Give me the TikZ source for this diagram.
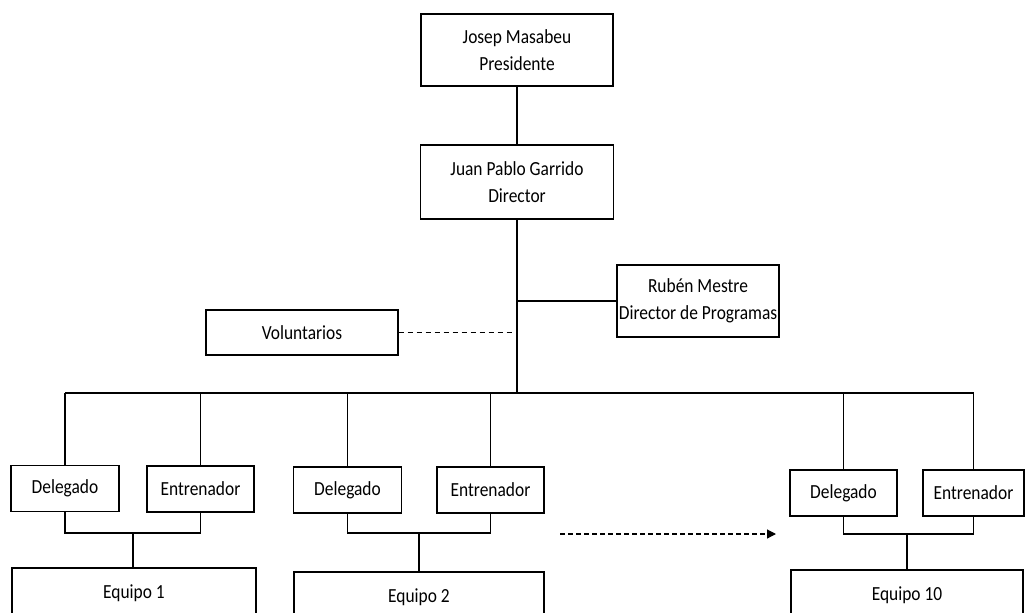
\documentclass[tikz,border=0pt]{standalone}
\usepackage{fontspec}
\setmainfont[FakeStretch=0.87]{Carlito}
\usetikzlibrary{arrows.meta}

\begin{document}
\begin{tikzpicture}[x=0.5pt,y=-0.5pt,
  box/.style={draw,line width=0.7pt,inner sep=0pt,align=center,
    font=\fontsize{10}{13.5}\selectfont},
  small/.style={box,minimum width=54pt,minimum height=23pt},
  team/.style={box,minimum height=25pt},
  link/.style={line width=0.6pt}]
  \clip (0,0) rectangle (1025,612);
  % top of the chart
  \node[box,minimum width=96pt,minimum height=36pt] (pres) at (517,50) {Josep Masabeu\\Presidente};
  \node[box,minimum width=96.5pt,minimum height=37pt] (dir) at (517,182) {Juan Pablo Garrido\\Director};
  \node[box,minimum width=81pt,minimum height=36pt] (prog) at (698,301) {Rubén Mestre\\Director de Programas};
  \node[box,minimum width=96pt,minimum height=22.5pt] (volun) at (302,332.5) {Voluntarios};
  \coordinate (hub) at (517,393);
  \draw[link] (pres) -- (dir);
  \draw[link] (dir) -- (hub);
  \draw[link] (prog.west) -- (prog.west -| hub);
  \draw[link,dash pattern=on 2.5pt off 2pt] (volun.east) -- ([xshift=-2pt]volun.east -| hub);
  % teams
  \node[small] (del1) at (65,488.5) {Delegado};
  \node[small,minimum width=53.5pt] (ent1) at (200.5,489) {Entrenador};
  \node[small] (del2) at (347.5,490) {Delegado};
  \node[small,minimum width=53.5pt] (ent2) at (490.5,490) {Entrenador};
  \node[small,minimum width=53.5pt] (del10) at (843.5,493) {Delegado};
  \node[small,minimum width=50.5pt] (ent10) at (973.5,493) {Entrenador};
  \node[team,minimum width=122pt] (eq1) at (134,593) {Equipo 1};
  \node[team,minimum width=125pt] (eq2) at (419,597) {Equipo 2};
  \node[team,minimum width=116pt] (eq10) at (907,595) {Equipo 10};
  \draw[link] (del1.north |- hub) -- (ent10.north |- hub);
  \foreach \n in {del1,ent1,del2,ent2,del10,ent10}
    \draw[link] (\n.north) -- (\n.north |- hub);
  \coordinate (j1) at (133,533);
  \coordinate (j2) at (419,533);
  \coordinate (j10) at (907,534);
  \draw[link] (del1.south) |- (j1) -| (ent1.south);
  \draw[link] (j1) -- (j1 |- eq1.north);
  \draw[link] (del2.south) |- (j2) -| (ent2.south);
  \draw[link] (j2) -- (j2 |- eq2.north);
  \draw[link] (del10.south) |- (j10) -| (ent10.south);
  \draw[link] (j10) -- (j10 |- eq10.north);
  % more teams
  \coordinate (more) at (560,534);
  \coordinate (more end) at (776,534);
  \draw[link,dash pattern=on 2.5pt off 1.5pt,-{Triangle[length=4.5pt,width=4.5pt]}] (more) -- (more end);
\end{tikzpicture}
\end{document}
